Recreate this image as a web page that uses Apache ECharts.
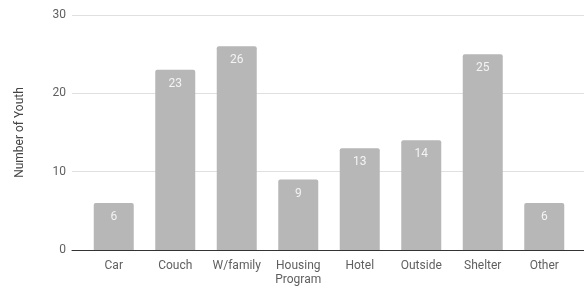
<!DOCTYPE html>
<html><head><meta charset="utf-8">
<script src="https://cdn.jsdelivr.net/npm/echarts@6/dist/echarts.min.js"></script>
<style>html,body{margin:0;padding:0;background:#fff}#c{width:584px;height:290px}</style>
</head><body><div id="c"></div>
<script>
const categories = ['Car','Couch','W/family','Housing\nProgram','Hotel','Outside','Shelter','Other'];
const values = [6,23,26,9,13,14,25,6];
const yTicks = [0,10,20,30];

const chart = echarts.init(document.getElementById('c'));
const font = 'Roboto, sans-serif';
chart.setOption({
  animation:false,
  textStyle:{fontFamily:font},
  grid:[
    {left:72,right:0,top:15,bottom:40},
    {left:83,right:9,top:15,bottom:40}
  ],
  xAxis:[
    {gridIndex:0,type:'value',min:0,max:1,show:true,axisLine:{show:true,onZero:false,lineStyle:{color:'#333',width:1}},axisTick:{show:false},axisLabel:{show:false},splitLine:{show:false}},
    {gridIndex:1,type:'category',data:categories,axisLine:{show:false},axisTick:{show:false},
     axisLabel:{color:'#5f5f5f',fontSize:12,lineHeight:14,margin:9,interval:0,fontFamily:font}}
  ],
  yAxis:[
    {gridIndex:0,type:'value',min:0,max:30,interval:10,
     name:'Number of Youth',nameLocation:'middle',nameGap:46,nameTextStyle:{color:'#444',fontSize:12,fontFamily:font},
     axisLine:{show:false},axisTick:{show:false},
     axisLabel:{color:'#5f5f5f',fontSize:12,margin:6,formatter:v=>yTicks.includes(v)?String(v):''},
     splitLine:{lineStyle:{color:'#e0e0e0',width:1}}},
    {gridIndex:1,type:'value',min:0,max:30,interval:10,show:false,splitLine:{show:false}}
  ],
  series:[{
    type:'bar',xAxisIndex:1,yAxisIndex:1,data:values,barWidth:40,
    itemStyle:{color:'#b7b7b7',borderRadius:[2,2,0,0]},
    label:{show:true,position:'insideTop',distance:8,color:'#f4f4f4',fontSize:12,fontFamily:font}
  }]
});
</script></body></html>
